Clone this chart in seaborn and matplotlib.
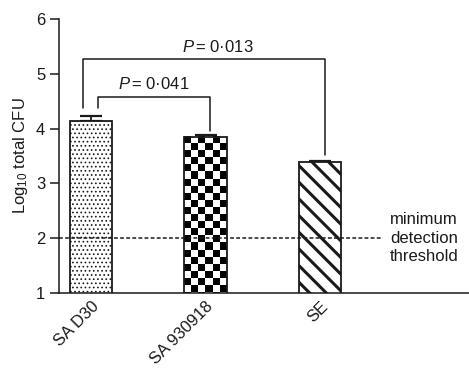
import matplotlib
matplotlib.use('Agg')
import matplotlib.pyplot as plt
import seaborn as sns
import pandas as pd
import numpy as np

# values
strains = ['SA D30', 'SA 930918', 'SE']
log_cfu = [4.14, 3.85, 3.39]
sem = [0.09, 0.03, 0.02]
threshold = 2.0
p_labels = ['0·013', '0·041']
p_pairs = [(0, 2), (0, 1)]
p_levels = [5.27, 4.58]

sns.set_style('ticks')
plt.rcParams['font.family'] = ['Liberation Sans', 'DejaVu Sans']
plt.rcParams['mathtext.fontset'] = 'custom'
plt.rcParams['mathtext.rm'] = 'Liberation Sans'
plt.rcParams['mathtext.it'] = 'Liberation Sans:italic'
plt.rcParams['hatch.linewidth'] = 2.2
ink = '#1a1a1a'

df = pd.DataFrame({'Strain': strains, 'CFU': log_cfu})

fig = plt.figure(figsize=(4.69, 3.73), dpi=100)
ax = fig.add_axes([0.126, 0.2145, 0.874, 0.7345])

# error bars first, bars drawn over their lower half
ax.errorbar(range(len(strains)), log_cfu, yerr=[[0] * 3, sem], fmt='none',
            ecolor=ink, elinewidth=1.3, capsize=8, capthick=1.6, zorder=1)
sns.barplot(data=df, x='Strain', y='CFU', color='white', width=0.37,
            edgecolor=ink, linewidth=1.3, errorbar=None, ax=ax, zorder=2)

bars = ax.patches
if hasattr(bars[0], 'set_hatch_linewidth'):
    bars[0].set_hatch_linewidth(0.7)
bars[0].set_hatch('....')
bars[0].set_edgecolor(ink)
bars[2].set_hatch('\\\\')

ax.set_ylim(1, 6)
ax.set_xlim(-0.28, 3.3)
ax.set_yticks([1, 2, 3, 4, 5, 6])

# checkerboard fill for the middle bar
fig.canvas.draw()
b = bars[1]
x0, w, top = b.get_x(), b.get_width(), b.get_y() + b.get_height()
px_w = ax.transData.transform((x0 + w, 0))[0] - ax.transData.transform((x0, 0))[0]
px_per_y = ax.transData.transform((0, 1))[1] - ax.transData.transform((0, 0))[1]
ncol = 6
cell_h = (px_w / ncol) / px_per_y
nrow = int(np.ceil((top - 1) / cell_h))
checker = 1 - (np.add.outer(np.arange(nrow), np.arange(ncol)) % 2)
im = ax.imshow(checker, cmap='gray_r', interpolation='nearest', aspect='auto',
               extent=[x0, x0 + w, top - nrow * cell_h, top], origin='upper', zorder=2.5)
im.set_clip_path(b)
im.set_clip_box(ax.bbox)
b.set_zorder(3)
b.set_facecolor('none')
ax.set_xlim(-0.28, 3.3)
ax.set_ylim(1, 6)

# detection threshold
ax.plot([-0.28, 2.55], [threshold, threshold], ls=(0, (2.5, 1.5)), color=ink, lw=1.1, zorder=4)
ax.text(2.61, threshold, 'minimum\ndetection\nthreshold', ha='left', va='center',
        multialignment='left', fontsize=12, color=ink, linespacing=1.3)

# significance brackets
offsets = [(-0.07, 0.04, 0.12), (0.06, 0.04, 0.0)]
for (i, j), lev, val, (dx0, dx1, tx) in zip(p_pairs, p_levels, p_labels, offsets):
    xl = i + dx0
    xr = j + dx1
    yl = log_cfu[i] + sem[i] + 0.15
    yr = log_cfu[j] + sem[j] + (0.1 if j == 2 else 0.08)
    ax.plot([xl, xl, xr, xr], [yl, lev, lev, yr], color=ink, lw=1.1, clip_on=False)
    ax.text((xl + xr) / 2 + tx, lev + 0.08, r'$P\!$ = ' + val, ha='center', va='bottom',
            fontsize=12, color=ink)

ax.set_xlabel('')
ax.set_ylabel(r'Log$_{10}$ total CFU', fontsize=12, color=ink, labelpad=4)
ax.set_xticks(range(len(strains)))
ax.set_xticklabels(strains, rotation=45, ha='right', rotation_mode='anchor', fontsize=12, color=ink)
ax.tick_params(axis='x', length=0, pad=4)
ax.tick_params(axis='y', length=6.5, width=1.1, labelsize=12, colors=ink, direction='out')
sns.despine(ax=ax)
for s in ['left', 'bottom']:
    ax.spines[s].set_linewidth(1.1)
    ax.spines[s].set_color(ink)

fig.savefig('out.png', dpi=100)
